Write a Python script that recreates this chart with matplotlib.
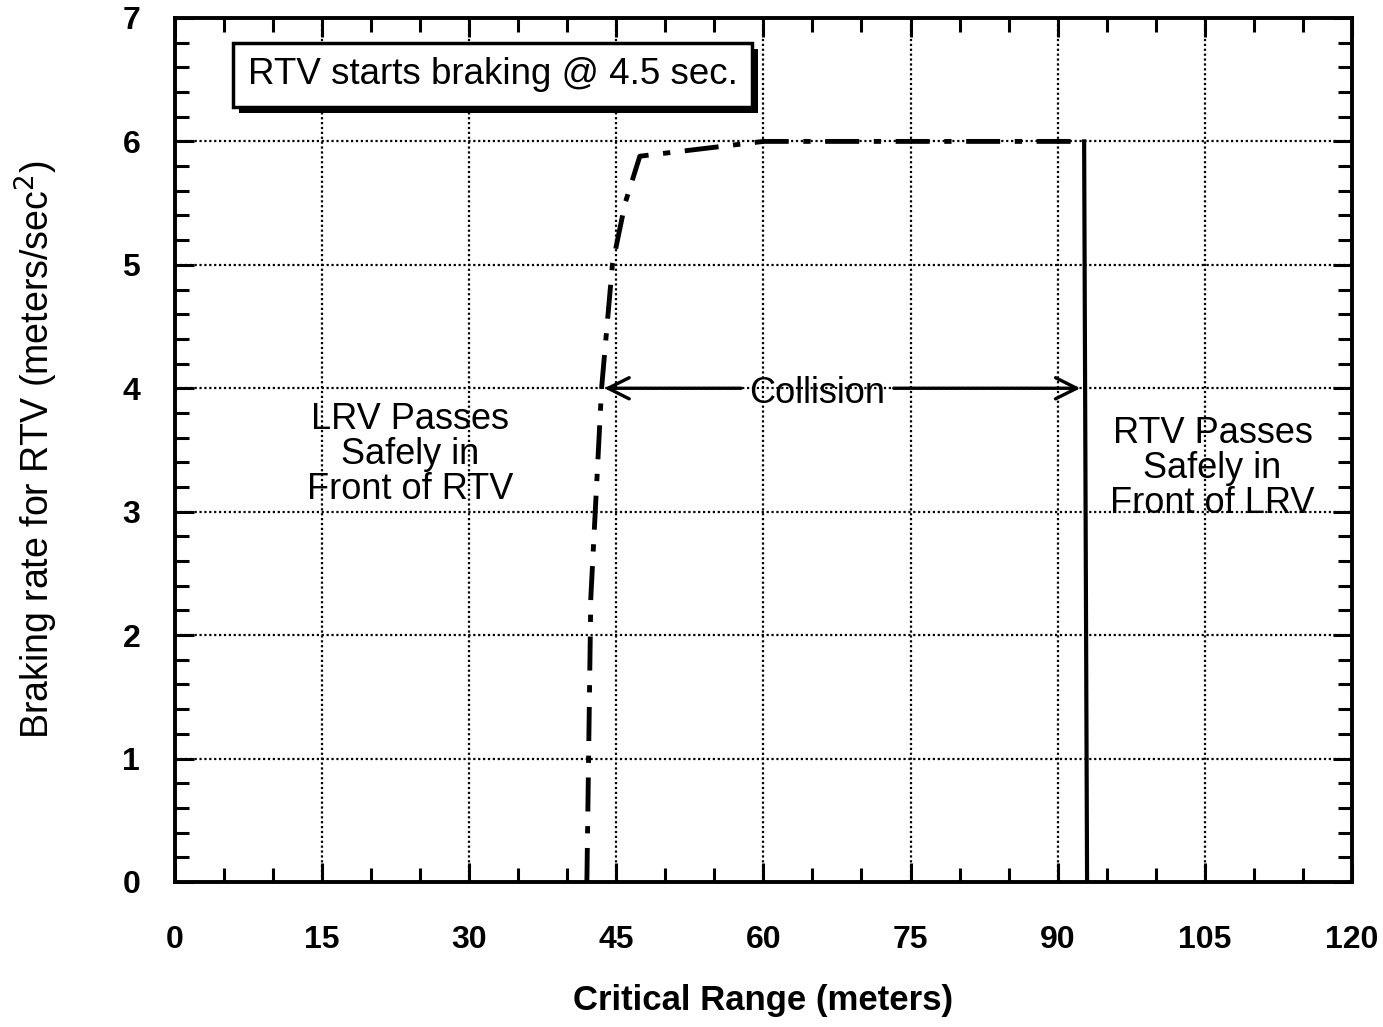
import matplotlib
matplotlib.use("Agg")
import matplotlib.pyplot as plt
import matplotlib.patheffects as pe
from matplotlib.ticker import MultipleLocator

plt.rcParams['font.family'] = ['Liberation Sans', 'DejaVu Sans']

# braking curve (critical range in m, braking rate m/s^2)
curve_x = [42.0, 42.4, 43.5, 44.6, 45.9, 47.4, 60.0, 92.7]
curve_y = [0.0, 2.3, 4.0, 5.0, 5.5, 5.88, 6.0, 6.0]
drop_x = [92.7, 93.0]
drop_y = [6.0, 0.0]

x_ticks = [0, 15, 30, 45, 60, 75, 90, 105, 120]
y_ticks = [0, 1, 2, 3, 4, 5, 6, 7]

collision_from = 43.5
collision_to = 92.6
collision_y = 4.0

fig = plt.figure(figsize=(13.83, 10.27), dpi=100)
ax = fig.add_axes([0.1265, 0.1412, 0.851, 0.8413])

ax.plot(curve_x, curve_y, color='black', lw=3.5, linestyle=(0, (7, 3, 1.5, 3)))
ax.plot(drop_x, drop_y, color='black', lw=3)

ax.set_xlim(0, 120)
ax.set_ylim(0, 7)
ax.set_xticks(x_ticks)
ax.set_yticks(y_ticks)
ax.xaxis.set_minor_locator(MultipleLocator(5))
ax.yaxis.set_minor_locator(MultipleLocator(0.2))
ax.tick_params(which='both', direction='in', top=True, right=True, width=2.2)
ax.tick_params(which='major', length=14, labelsize=23)
ax.tick_params(which='minor', length=10)
ax.tick_params(axis='x', which='major', pad=31)
ax.tick_params(axis='y', which='major', pad=25)
for lab in ax.get_xticklabels() + ax.get_yticklabels():
    lab.set_fontweight('bold')
for sp in ax.spines.values():
    sp.set_linewidth(2.8)

ax.grid(True, which='major', color='black', linestyle=(0, (1, 1.2)), lw=1.6)

# collision arrow
ax.annotate('', xy=(collision_from, collision_y), xytext=(58, collision_y),
            arrowprops=dict(arrowstyle='->', lw=2.4, color='black',
                            mutation_scale=38))
ax.annotate('', xy=(collision_to, collision_y), xytext=(73, collision_y),
            arrowprops=dict(arrowstyle='->', lw=2.4, color='black',
                            mutation_scale=38))
ax.text(65.5, 3.96, 'Collision', ha='center', va='center', fontsize=26)

ax.text(24.0, 3.46, 'LRV Passes\nSafely in\nFront of RTV', ha='center',
        va='center', fontsize=26, linespacing=1.0)
ax.text(105.8, 3.35, 'RTV Passes\nSafely in\nFront of LRV', ha='center',
        va='center', fontsize=26, linespacing=1.0)

note = ax.text(7.4, 6.54, 'RTV starts braking @ 4.5 sec.', ha='left',
               va='center', fontsize=26.5,
               bbox=dict(boxstyle='square,pad=0.4', facecolor='white',
                         edgecolor='black', lw=2.5))
note.get_bbox_patch().set_path_effects(
    [pe.SimplePatchShadow(offset=(4.5, -4.5), shadow_rgbFace='black', alpha=1),
     pe.Normal()])

ax.set_xlabel('Critical Range (meters)', fontsize=25, fontweight='bold')
ax.xaxis.set_label_coords(0.5, -0.118)
ax.set_ylabel('Braking rate for RTV (meters/sec$^2$)', fontsize=27)
ax.yaxis.set_label_coords(-0.098, 0.5)

fig.savefig('out.png', dpi=100)
